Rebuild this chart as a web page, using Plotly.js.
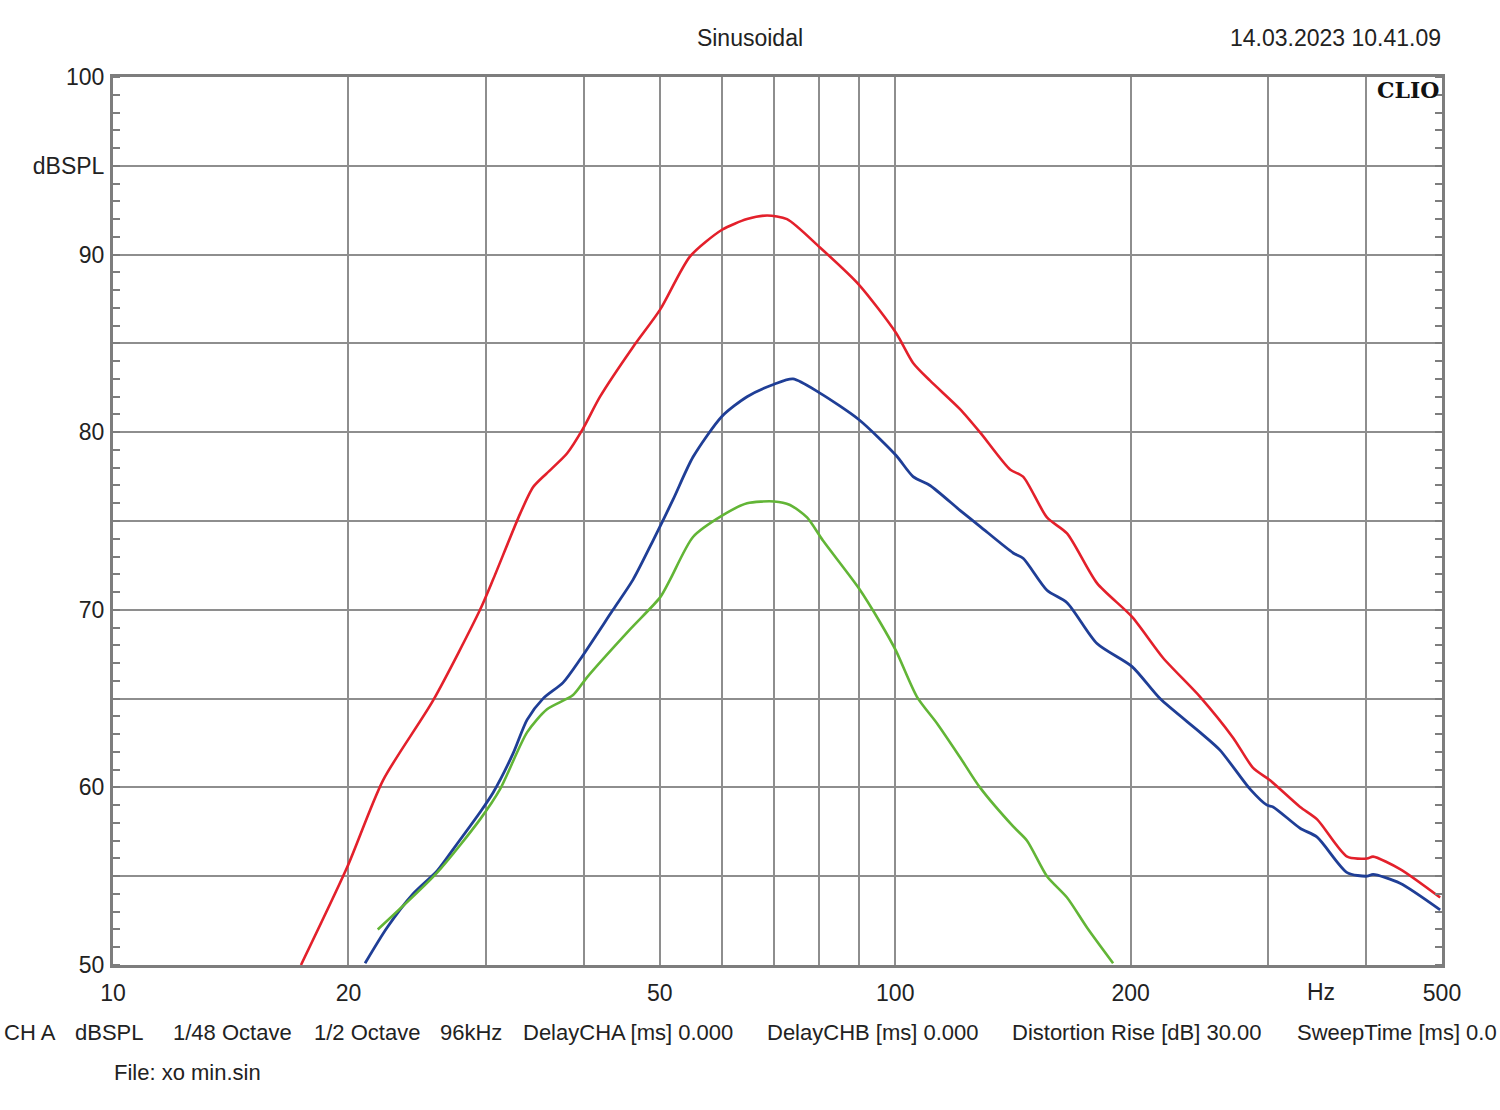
<!DOCTYPE html>
<html>
<head>
<meta charset="utf-8">
<script src="https://cdn.plot.ly/plotly-3.0.1.min.js"></script>
<style>
html,body{margin:0;padding:0;background:#fff;}
#chart{width:1500px;height:1110px;}
</style>
</head>
<body>
<div id="chart"></div>
<script>
// Frequencies in Hz, levels in dBSPL
const redFreq = [17.39, 19.92, 22.14, 25.66, 29.46, 30.61, 33.14, 34.43, 35.88, 38.05, 39.89, 41.94, 46.22, 50.05, 54.67, 60.06, 64.65, 68.57, 72.72, 80.13, 89.89, 100.2, 105.4, 110.8, 121.0, 128.3, 140.2, 145.7, 156.3, 165.8, 181.1, 200.8, 219.9, 245.3, 270.3, 286.7, 301.4, 329.3, 346.2, 378.2, 401.1, 408.2, 441.9, 497.3];
const redDb   = [50.0, 55.5, 60.4, 64.9, 70.0, 71.7, 75.4, 76.9, 77.7, 78.8, 80.2, 82.0, 84.8, 86.9, 89.9, 91.4, 92.0, 92.2, 92.0, 90.4, 88.3, 85.6, 83.9, 82.9, 81.3, 80.0, 77.9, 77.5, 75.2, 74.3, 71.5, 69.6, 67.3, 65.1, 62.8, 61.1, 60.4, 58.9, 58.2, 56.1, 56.0, 56.1, 55.4, 53.8];

const blueFreq = [21.0, 22.40, 24.18, 25.96, 27.20, 29.46, 30.61, 32.46, 33.83, 35.46, 37.61, 39.54, 43.57, 46.22, 49.02, 51.99, 55.14, 60.06, 64.65, 70.00, 74.01, 80.13, 89.89, 100.2, 105.4, 110.8, 121.0, 128.3, 141.5, 145.7, 156.3, 165.8, 181.1, 200.8, 218.0, 245.3, 260.1, 284.2, 298.7, 304.1, 329.3, 346.2, 378.2, 401.1, 408.2, 441.9, 497.3];
const blueDb   = [50.1, 52.1, 54.0, 55.3, 56.5, 58.6, 59.7, 61.9, 63.8, 65.0, 65.9, 67.2, 70.0, 71.7, 73.9, 76.2, 78.6, 80.9, 82.0, 82.7, 83.0, 82.2, 80.7, 78.7, 77.5, 77.0, 75.6, 74.7, 73.2, 72.9, 71.1, 70.4, 68.1, 66.8, 65.0, 63.1, 62.1, 59.9, 59.0, 58.9, 57.7, 57.2, 55.2, 55.0, 55.1, 54.6, 53.1];

const greenFreq = [21.8, 25.96, 29.46, 31.25, 33.83, 35.88, 38.74, 40.36, 45.81, 50.05, 51.54, 55.14, 60.06, 64.65, 70.00, 73.37, 77.13, 80.83, 89.89, 95.63, 100.2, 106.6, 113.1, 121.0, 128.3, 141.5, 147.4, 156.3, 165.8, 175.9, 189.9];
const greenDb   = [52.0, 55.2, 58.2, 59.9, 63.1, 64.4, 65.2, 66.2, 68.9, 70.7, 71.7, 74.1, 75.3, 76.0, 76.1, 75.9, 75.2, 73.9, 71.2, 69.3, 67.7, 65.1, 63.6, 61.7, 60.0, 57.8, 57.0, 55.0, 53.8, 52.1, 50.1];

const xTickVals = [10, 20, 30, 40, 50, 60, 70, 80, 90, 100, 200, 300, 400, 500];
const xTickText = ['10', '20', '', '', '50', '', '', '', '', '100', '200', '', '', '500'];
const yTickVals = [50, 55, 60, 65, 70, 75, 80, 85, 90, 95, 100];
const yTickText = ['50', '', '60', '', '70', '', '80', '', '90', 'dBSPL', '100'];

const infoItems = [
  ['CH A', 2], ['dBSPL', 73], ['1/48 Octave', 171], ['1/2 Octave', 312], ['96kHz', 438],
  ['DelayCHA [ms] 0.000', 521], ['DelayCHB [ms] 0.000', 765],
  ['Distortion Rise [dB] 30.00', 1010], ['SweepTime [ms] 0.0', 1295]
];

const W = 1500, H = 1110, L = 113, R = 58, T = 77, B = 145;
const pw = W - L - R, ph = H - T - B;
const px = v => (v - L) / pw;
const py = v => (H - B - v) / ph;

const FONT = 'Liberation Sans, Arial, sans-serif';
const gridCol = '#8e8e8e';

const traces = [
  {x: redFreq, y: redDb, mode: 'lines', line: {color: '#e3202b', width: 2.6, shape: 'spline', smoothing: 0.7}, name: 'red'},
  {x: blueFreq, y: blueDb, mode: 'lines', line: {color: '#1f3e96', width: 2.8, shape: 'spline', smoothing: 0.7}, name: 'blue'},
  {x: greenFreq, y: greenDb, mode: 'lines', line: {color: '#62b536', width: 2.6, shape: 'spline', smoothing: 0.7}, name: 'green'}
];

const annotations = [
  {text: '14.03.2023 10.41.09', xref: 'paper', yref: 'paper', x: px(1443), y: py(38), xanchor: 'right', yanchor: 'middle', showarrow: false, font: {family: FONT, size: 23, color: '#222'}},
  {text: '<b>CLIO</b>', xref: 'paper', yref: 'paper', x: px(1441), y: py(90), xanchor: 'right', yanchor: 'middle', showarrow: false, font: {family: 'DejaVu Serif, Liberation Serif, serif', size: 22, color: '#111'}},
  {text: 'Hz', xref: 'paper', yref: 'paper', x: px(1321), y: py(992), xanchor: 'center', yanchor: 'middle', showarrow: false, font: {family: FONT, size: 23, color: '#222'}},
  {text: 'File: xo min.sin', xref: 'paper', yref: 'paper', x: px(112), y: py(1072), xanchor: 'left', yanchor: 'middle', showarrow: false, font: {family: FONT, size: 22, color: '#222'}}
];
infoItems.forEach(([t, x0]) => annotations.push({
  text: t, xref: 'paper', yref: 'paper', x: px(x0), y: py(1032), xanchor: 'left', yanchor: 'middle',
  showarrow: false, font: {family: FONT, size: 22, color: '#222'}
}));

const layout = {
  width: W, height: H,
  margin: {l: L, r: R, t: T, b: B, pad: 0},
  paper_bgcolor: '#fff', plot_bgcolor: '#fff',
  showlegend: false,
  title: {text: 'Sinusoidal', x: 0.5, xref: 'container', xanchor: 'center', y: 1 - 38 / H, yref: 'container', yanchor: 'middle', font: {family: FONT, size: 23, color: '#222'}},
  font: {family: FONT, size: 23, color: '#222'},
  xaxis: {
    type: 'log', range: [1, Math.log10(500)], tickmode: 'array', tickvals: xTickVals, ticktext: xTickText,
    showgrid: true, gridcolor: gridCol, gridwidth: 2, ticks: '', ticklabelstandoff: 5,
    showline: true, linecolor: '#7d7d7d', linewidth: 3, mirror: true, zeroline: false,
    tickfont: {family: FONT, size: 23, color: '#222'}
  },
  yaxis: {
    range: [50, 100], tickmode: 'array', tickvals: yTickVals, ticktext: yTickText,
    showgrid: true, gridcolor: gridCol, gridwidth: 2, ticks: '', ticklabelstandoff: 1,
    showline: true, linecolor: '#7d7d7d', linewidth: 3, mirror: 'allticks', zeroline: false,
    minor: {ticks: 'inside', ticklen: 7, tickwidth: 2, tickcolor: '#7d7d7d', dtick: 1, tick0: 50, showgrid: false},
    tickfont: {family: FONT, size: 23, color: '#222'}
  },
  annotations: annotations
};

Plotly.newPlot('chart', traces, layout, {staticPlot: true, displayModeBar: false});
</script>
</body>
</html>
